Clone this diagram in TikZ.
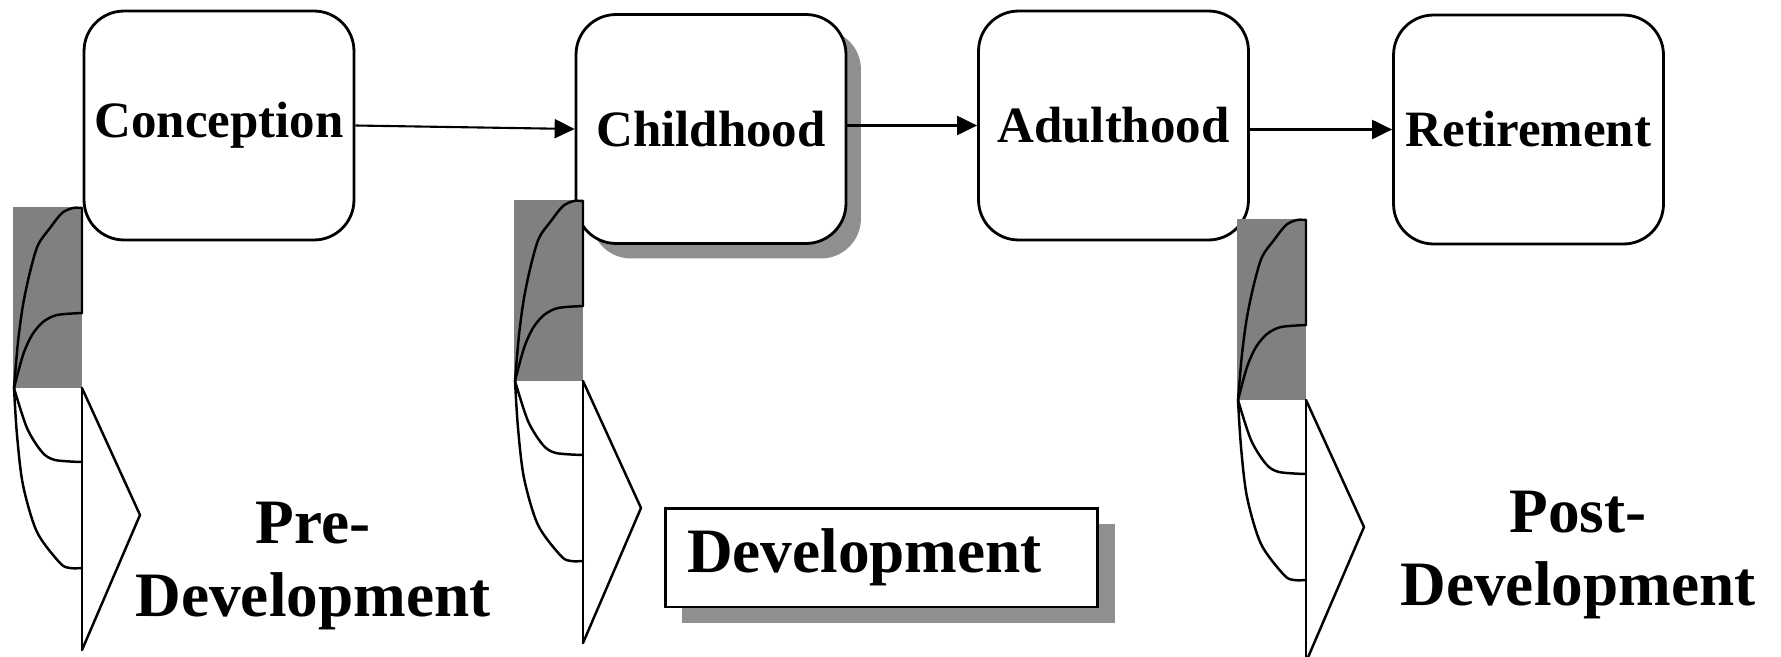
\documentclass[tikz,border=0pt]{standalone}
\usepackage{fontspec}
\setmainfont{Liberation Serif}
\usetikzlibrary{arrows.meta,shadows}

\definecolor{shadowgrey}{gray}{0.56}
\definecolor{glyphgrey}{gray}{0.50}

\tikzset{
  % small two-part emblem placed beside each phase
  facet/.pic={
    \fill[glyphgrey] (0,0) rectangle (69,181);
    \draw[ink] plot[smooth, tension=0.5] coordinates
      {(1,181) (5,135) (10,98) (17,65) (25,38) (37,21) (49,6) (60,1) (69,1)} -- (69,106);
    \draw[ink] plot[smooth, tension=0.5] coordinates
      {(1,181) (10,148) (19,128) (30,115) (44,108) (69,106)};
    \draw[ink] (69,181) -- (69,443);
    \draw[ink] (69,181) -- (127,308) -- (69,443);
    \draw[ink] plot[smooth, tension=0.5] coordinates
      {(1,181) (4,228) (10,278) (24,325) (47,356) (57,361) (69,361)};
    \draw[ink] plot[smooth, tension=0.5] coordinates
      {(1,181) (14,221) (29,245) (42,253) (69,255)};
  },
  ink/.style={line width=1.4pt, line join=round, line cap=round},
}

\begin{document}
\begin{tikzpicture}[x=0.02cm, y=-0.02cm,
  stage/.style={draw, line width=1.6pt, rounded corners=0.8cm, fill=white,
    minimum width=5.4cm, minimum height=4.58cm, inner sep=0pt,
    font=\bfseries\fontsize{29pt}{33pt}\selectfont},
  softshadow/.style={drop shadow={shadow xshift=0.3cm, shadow yshift=-0.3cm,
    fill=shadowgrey, opacity=1}},
  flow/.style={line width=1.2pt, -{Triangle[length=0.4cm, width=0.38cm]}},
  devbox/.style={draw, line width=1.7pt, fill=white, text width=7.78cm,
    inner xsep=0.44cm, inner ysep=0pt, minimum height=1.98cm, align=left,
    font=\bfseries\fontsize{36pt}{42pt}\selectfont},
  biglabel/.style={align=center, font=\bfseries\fontsize{36pt}{42pt}\selectfont},
]
\useasboundingbox (0,0) rectangle (1781,656);

% life phases
\node[stage] (conc) at (219,125.5) {Conception};
\node[stage, softshadow] (child) at (711,129) {Childhood};
\node[stage] (adult) at (1113.5,125.5) {Adulthood};
\node[stage] (ret) at (1528.5,129.5) {Retirement};

% emblems
\pic at (13,207) {facet};
\pic at (514,200) {facet};
\pic at (1237,219) {facet};

% transitions
\draw[flow] (conc.east) -- (child.west);
\draw[flow] (child.east |- adult.west) -- (adult.west);
\draw[flow] (adult.east |- ret.west) -- (ret.west);

% period labels
\node[biglabel] (pre) at (313,566) {Pre-\\Development};
\node[devbox, drop shadow={shadow xshift=0.34cm, shadow yshift=-0.32cm,
    fill=shadowgrey, opacity=1}] (dev) at (881.5,557.5) {Development};
\node[biglabel] (post) at (1578,555) {Post-\\Development};
\end{tikzpicture}
\end{document}
